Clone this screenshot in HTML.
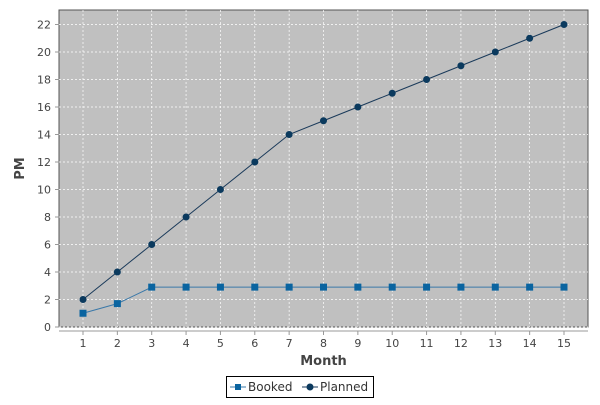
<!DOCTYPE html>
<html><head><style>
body{margin:0;background:#fff;}
text{font-family:"DejaVu Sans","Liberation Sans",sans-serif;}
</style></head><body>
<svg id="c" width="600" height="400" xmlns="http://www.w3.org/2000/svg"></svg>
<script>
const categories=[1,2,3,4,5,6,7,8,9,10,11,12,13,14,15];
const booked=[1,1.7,2.9,2.9,2.9,2.9,2.9,2.9,2.9,2.9,2.9,2.9,2.9,2.9,2.9];
const planned=[2,4,6,8,10,12,14,15,16,17,18,19,20,21,22];
const yTicks=[0,2,4,6,8,10,12,14,16,18,20,22];
const L=59,R=588,T=10,B=327;
const x=i=>L+24+i*(R-L-48)/(categories.length-1);
const y=v=>B-v*13.75;
const s=document.getElementById('c');const NS='http://www.w3.org/2000/svg';
function el(t,a,p){const e=document.createElementNS(NS,t);for(const k in a)e.setAttribute(k,a[k]);(p||s).appendChild(e);return e;}
let r=el('rect',{x:L,y:T,width:R-L,height:B-T,fill:'#c0c0c0',stroke:'#555','stroke-width':1});


yTicks.forEach(v=>{
 let g=el('line',{x1:L,x2:R,y1:y(v),y2:y(v),stroke:'#fff','stroke-dasharray':'2,2','stroke-width':0.7});
 
 
 el('line',{x1:L-4,x2:L,y1:y(v),y2:y(v),stroke:'#999'});
 let t=el('text',{x:L-8,y:y(v)+4,'text-anchor':'end','font-size':11,fill:'#444'});t.textContent=v;
 
 
});
el('line',{x1:L,x2:R,y1:331,y2:331,stroke:'#999'});
categories.forEach((c,i)=>{
 let g=el('line',{x1:x(i),x2:x(i),y1:T,y2:B,stroke:'#fff','stroke-dasharray':'2,2','stroke-width':0.7});
 
 
 el('line',{x1:x(i),x2:x(i),y1:331,y2:335,stroke:'#999'});
 let t=el('text',{x:x(i),y:347,'text-anchor':'middle','font-size':11,fill:'#444'});t.textContent=c;
 
 
});
let xt=el('text',{x:(L+R)/2,y:365,'text-anchor':'middle','font-size':13,'font-weight':'bold',fill:'#444'});xt.textContent='Month';


let yt=el('text',{x:24,y:(T+B)/2,'text-anchor':'middle','font-size':13,'font-weight':'bold',fill:'#444',transform:'rotate(-90 24 '+((T+B)/2)+')'});yt.textContent='PM';


let pl=el('polyline',{points:planned.map((v,i)=>x(i)+','+y(v)).join(' '),fill:'none',stroke:'#1a3a5a','stroke-width':1});


let bl=el('polyline',{points:booked.map((v,i)=>x(i)+','+y(v)).join(' '),fill:'none',stroke:'#3a78a8','stroke-width':1});


planned.forEach((v,i)=>{let p=el('circle',{cx:x(i),cy:y(v),r:3.5,fill:'#0b3a5e'});
 
 });
booked.forEach((v,i)=>{let p=el('rect',{x:x(i)-3.5,y:y(v)-3.5,width:7,height:7,fill:'#0a64a0'});
 
 });
let lg=el('g',{});


el('rect',{x:226.5,y:376.5,width:147,height:21,fill:'#fff',stroke:'#000'},lg);
el('line',{x1:230,x2:246,y1:387,y2:387,stroke:'#3a78a8'},lg);
el('rect',{x:235,y:384,width:6,height:6,fill:'#0a64a0'},lg);
let t1=el('text',{x:248,y:391,'font-size':12,fill:'#333'},lg);t1.textContent='Booked';


el('line',{x1:302,x2:318,y1:387,y2:387,stroke:'#1a3a5a'},lg);
el('circle',{cx:310,cy:387,r:3.5,fill:'#0b3a5e'},lg);
let t2=el('text',{x:320,y:391,'font-size':12,fill:'#333'},lg);t2.textContent='Planned';


</script>
</body></html>
